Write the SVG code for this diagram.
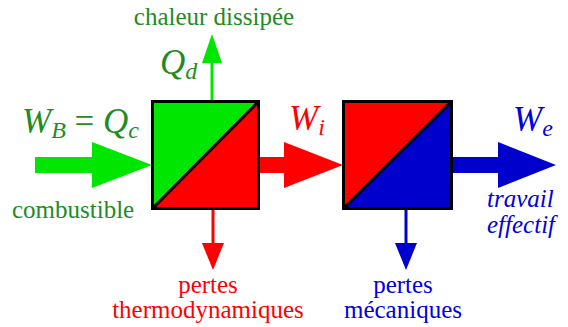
<svg xmlns="http://www.w3.org/2000/svg" width="568" height="327" viewBox="0 0 568 327">
<style>
text{font-family:'Liberation Serif','Times New Roman',serif !important}
.g{fill:#1e8c1e}.r{fill:#ff0000}.b{fill:#0000e0}
.box{fill:none;stroke:#000;stroke-width:3}
.diag{stroke:#000;stroke-width:3}
</style>
<rect width="568" height="327" fill="#fff"/>
<g id="connectors">
  <polygon id="in-green" points="35,157 92,157 92,142 152,165 92,188 92,173 35,173" fill="#00e600"/>
  <polygon id="mid-red" points="259,157 284,157 284,142 343,165 284,188 284,173 259,173" fill="#ff0000"/>
  <polygon id="out-blue" points="452,157 498,157 498,142 556,165 498,188 498,173 452,173" fill="#0000cc"/>
  <g id="up-green">
    <line x1="212" y1="101" x2="212" y2="62" stroke="#00e600" stroke-width="3"/>
    <polygon points="202,63 222,63 212,34" fill="#00e600"/>
  </g>
  <g id="down-red">
    <line x1="213" y1="209" x2="213" y2="244" stroke="#ff0000" stroke-width="3"/>
    <polygon points="202,243 224,243 213,270" fill="#ff0000"/>
  </g>
  <g id="down-blue">
    <line x1="406" y1="209" x2="406" y2="244" stroke="#0000cc" stroke-width="3"/>
    <polygon points="395,243 417,243 406,270" fill="#0000cc"/>
  </g>
</g>
<g id="node-moteur">
  <polygon points="152,101 259,101 152,209" fill="#00e600"/>
  <polygon points="259,101 259,209 152,209" fill="#ff0000"/>
  <line class="diag" x1="152" y1="209" x2="259" y2="101"/>
  <rect class="box" x="152.5" y="101.5" width="106" height="107"/>
</g>
<g id="node-transmission">
  <polygon points="343,101 452,101 343,209" fill="#ff0000"/>
  <polygon points="452,101 452,209 343,209" fill="#0000cc"/>
  <line class="diag" x1="343" y1="209" x2="452" y2="101"/>
  <rect class="box" x="343.5" y="101.5" width="108" height="107"/>
</g>
<g id="labels">
  <text class="g" font-family="Liberation Serif" font-size="25" x="214" y="25" text-anchor="middle">chaleur dissipée</text>
  <text class="g" font-family="Liberation Serif" font-size="35" font-style="italic" x="160" y="74">Q<tspan font-size="24" dy="5">d</tspan></text>
  <text class="g" font-family="Liberation Serif" font-size="35" font-style="italic" x="22" y="133">W<tspan font-size="24" dy="5">B</tspan><tspan dy="-5" font-style="normal"> = </tspan>Q<tspan font-size="24" dy="5">c</tspan></text>
  <text class="g" font-family="Liberation Serif" font-size="25" x="12" y="218">combustible</text>
  <text class="r" font-family="Liberation Serif" font-size="35" font-style="italic" x="289" y="130">W<tspan font-size="24" dy="5">i</tspan></text>
  <text class="b" font-family="Liberation Serif" font-size="35" font-style="italic" x="513" y="131">W<tspan font-size="24" dy="5">e</tspan></text>
  <text class="b" font-family="Liberation Serif" font-size="25" font-style="italic" x="487" y="207">travail</text>
  <text class="b" font-family="Liberation Serif" font-size="25" font-style="italic" x="487" y="233">effectif</text>
  <text class="r" font-family="Liberation Serif" font-size="25" x="208" y="293" text-anchor="middle">pertes</text>
  <text class="r" font-family="Liberation Serif" font-size="25" x="208" y="318" text-anchor="middle">thermodynamiques</text>
  <text class="b" font-family="Liberation Serif" font-size="25" x="403" y="293" text-anchor="middle">pertes</text>
  <text class="b" font-family="Liberation Serif" font-size="25" x="403" y="318" text-anchor="middle">mécaniques</text>
</g>
</svg>
